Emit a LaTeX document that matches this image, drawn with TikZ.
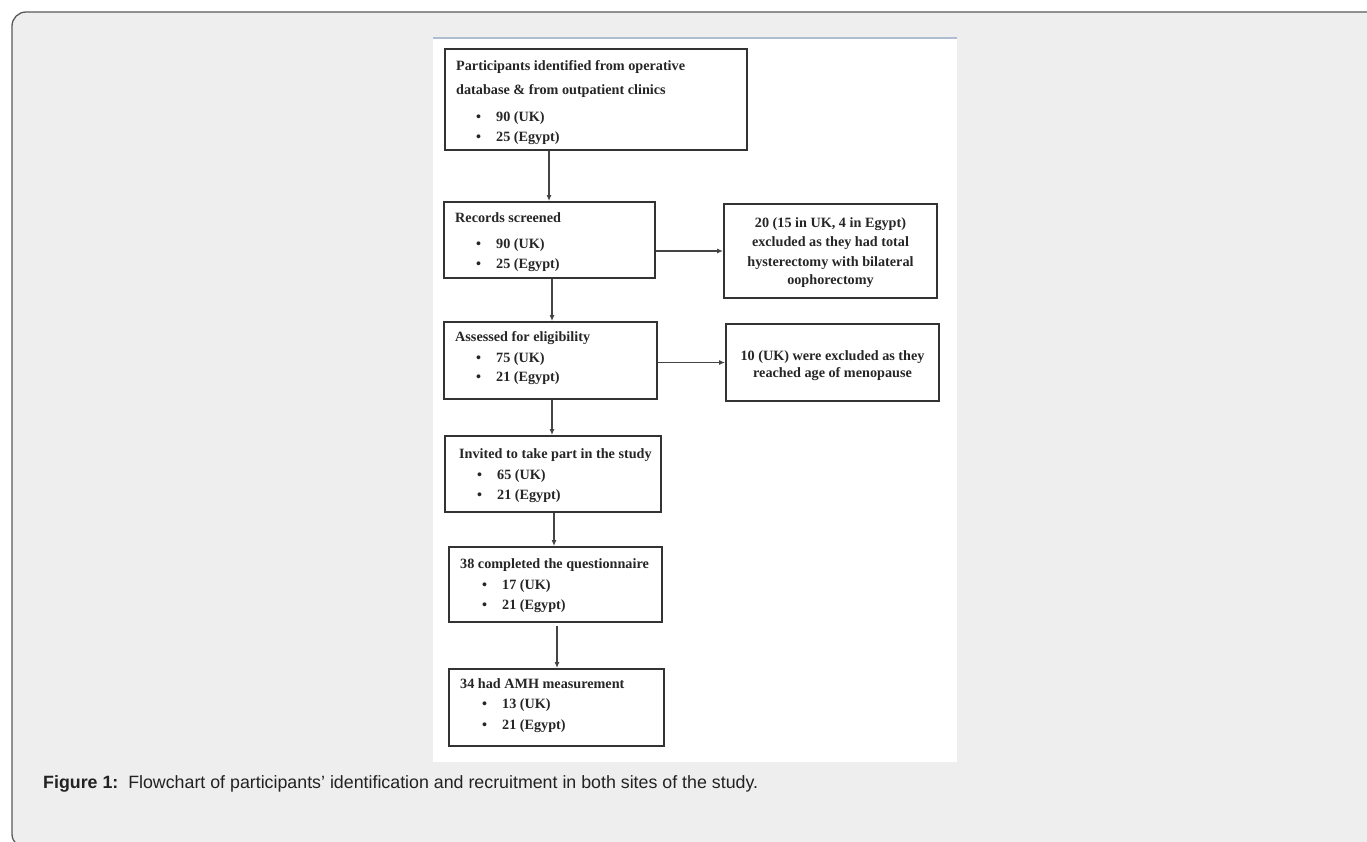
\documentclass[tikz,border=0pt]{standalone}
\usepackage{fontspec}
\setmainfont{Liberation Serif}
\newfontfamily\capfont{Liberation Sans}
\usetikzlibrary{arrows.meta}
\definecolor{bggray}{HTML}{EEEEEE}
\definecolor{framecol}{HTML}{5A5A5A}
\definecolor{boxcol}{HTML}{333333}
\definecolor{txtcol}{HTML}{262626}
\definecolor{arrcol}{HTML}{444444}
\definecolor{panelline}{HTML}{AEBDD2}
\definecolor{captext}{HTML}{222222}
\newcommand{\bul}{•\hspace{15pt}}
\tikzset{
  flowbox/.style={draw=boxcol, line width=2pt, rectangle, inner sep=0pt, fill=white},
  txt/.style={anchor=base west, inner sep=0pt, text=txtcol, font=\fontsize{14.2}{17}\selectfont\bfseries},
  ctxt/.style={anchor=base, inner sep=0pt, text=txtcol, font=\fontsize{14.2}{17}\selectfont\bfseries},
  arr/.style={draw=arrcol, line width=1.1pt, -{Latex[length=6pt,width=5pt]}},
}
\begin{document}
\begin{tikzpicture}[x=1pt,y=-1pt]
\useasboundingbox (0,0) rectangle (1367,841);
\clip (0,0) rectangle (1367,841);
\fill[white] (0,0) rectangle (1367,841);
\draw[draw=framecol, fill=bggray, line width=1.3pt, rounded corners=14pt] (12,12) rectangle (1395,848);
% white panel
\fill[white] (433,38) rectangle (957,762);
\draw[panelline, line width=2pt] (433,38) -- (957,38);

% boxes
\node[flowbox, minimum width=302pt, minimum height=101pt] (b1) at (596,99.5) {};
\node[flowbox, minimum width=211pt, minimum height=76pt] (b2) at (549.5,240) {};
\node[flowbox, minimum width=213pt, minimum height=94pt] (e1) at (830.5,251) {};
\node[flowbox, minimum width=213pt, minimum height=77pt] (b3) at (550.5,360.5) {};
\node[flowbox, minimum width=213pt, minimum height=77pt] (e2) at (832.5,362.5) {};
\node[flowbox, minimum width=216pt, minimum height=76pt] (b4) at (553,474) {};
\node[flowbox, minimum width=213pt, minimum height=75pt] (b5) at (555.5,584.5) {};
\node[flowbox, minimum width=215pt, minimum height=77pt] (b6) at (556.5,707.5) {};

% texts box1
\node[txt] (t1a) at (456,70) {Participants identified from operative};
\node[txt] (t1b) at (456,94) {database \& from outpatient clinics};
\node[txt] (t1c) at (476,121) {\bul 90 (UK)};
\node[txt] (t1d) at (476,141) {\bul 25 (Egypt)};
% box2
\node[txt] (t2a) at (455,222) {Records screened};
\node[txt] (t2b) at (476,248) {\bul 90 (UK)};
\node[txt] (t2c) at (476,268) {\bul 25 (Egypt)};
% excl1
\node[ctxt] (te1a) at (830.5,227) {20 (15 in UK, 4 in Egypt)};
\node[ctxt] (te1b) at (830.5,246) {excluded as they had total};
\node[ctxt] (te1c) at (830.5,266) {hysterectomy with bilateral};
\node[ctxt] (te1d) at (830.5,284) {oophorectomy};
% box3
\node[txt] (t3a) at (455,341) {Assessed for eligibility};
\node[txt] (t3b) at (476,362) {\bul 75 (UK)};
\node[txt] (t3c) at (476,381) {\bul 21 (Egypt)};
% excl2
\node[ctxt] (te2a) at (832.5,360) {10 (UK) were excluded as they};
\node[ctxt] (te2b) at (832.5,377) {reached age of menopause};
% box4
\node[txt] (t4a) at (459,458) {Invited to take part in the study};
\node[txt] (t4b) at (477,479) {\bul 65 (UK)};
\node[txt] (t4c) at (477,499) {\bul 21 (Egypt)};
% box5
\node[txt] (t5a) at (460,568) {38 completed the questionnaire};
\node[txt] (t5b) at (482,589) {\bul 17 (UK)};
\node[txt] (t5c) at (482,609) {\bul 21 (Egypt)};
% box6
\node[txt] (t6a) at (460,688) {34 had AMH measurement};
\node[txt] (t6b) at (482,708) {\bul 13 (UK)};
\node[txt] (t6c) at (482,729) {\bul 21 (Egypt)};

% arrows
\draw[arr] (b1.south -| 549,0) -- (b2.north -| 549,0);
\draw[arr] (b2.south -| 552,0) -- (b3.north -| 552,0);
\draw[arr] (b3.south -| 552,0) -- (b4.north -| 552,0);
\draw[arr] (b4.south -| 554,0) -- (b5.north -| 554,0);
\draw[arr] ([yshift=-3pt]b5.south -| 557,0) -- (b6.north -| 557,0);
\draw[arr] (b2.east |- e1.west) -- (e1.west);
\draw[arr] (b3.east |- e2.west) -- (e2.west);

% caption
\node[anchor=base west, inner sep=0pt, text=captext, font=\capfont\fontsize{17.8}{20}\selectfont] (cap) at (43,788) {\textbf{Figure 1:}\ \ Flowchart of participants’ identification and recruitment in both sites of the study.};
\end{tikzpicture}
\end{document}
